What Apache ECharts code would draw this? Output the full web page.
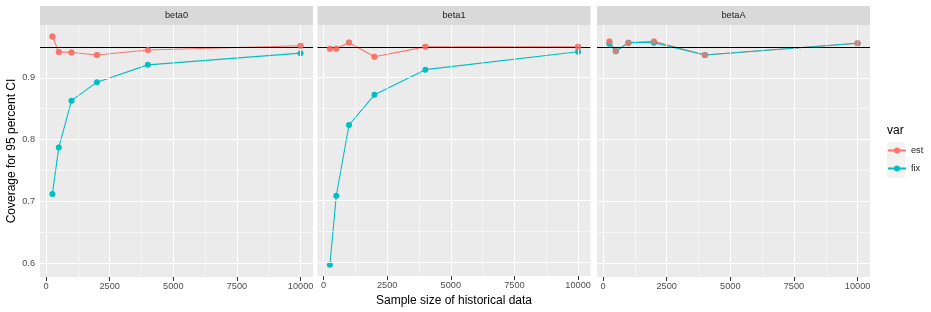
<!DOCTYPE html>
<html><head><meta charset="utf-8">
<script src="https://cdn.jsdelivr.net/npm/echarts@6/dist/echarts.min.js"></script>
<style>html,body{margin:0;padding:0;background:#fff}#c{width:931px;height:312px}</style>
</head><body><div id="c"></div>
<script>
// ---- data ----
const sampleSizes = [250, 500, 1000, 2000, 4000, 10000];
const panels = ['beta0', 'beta1', 'betaA'];
const beta0Est = [0.967, 0.942, 0.941, 0.937, 0.945, 0.952];
const beta0Fix = [0.712, 0.787, 0.863, 0.893, 0.921, 0.940];
const beta1Est = [0.947, 0.947, 0.957, 0.934, 0.950, 0.950];
const beta1Fix = [0.596, 0.708, 0.823, 0.872, 0.913, 0.942];
const betaAEst = [0.959, 0.943, 0.957, 0.959, 0.937, 0.956];
const betaAFix = [0.955, 0.943, 0.957, 0.957, 0.937, 0.956];
const xTicks = [0, 2500, 5000, 7500, 10000];
const xMinor = [1250, 3750, 6250, 8750];
const yTicks = [0.6, 0.7, 0.8, 0.9];
const yMinor = [0.65, 0.75, 0.85, 0.95];
const refLine = 0.95;
const seriesNames = ['est', 'fix'];

// ---- build ----
const estSets = [beta0Est, beta1Est, betaAEst];
const fixSets = [beta0Fix, beta1Fix, betaAFix];
const colors = {est: '#F8766D', fix: '#00BFC4'};
const font = 'Liberation Sans, Arial, Helvetica, sans-serif';

const xMinD = Math.min(...sampleSizes), xMaxD = Math.max(...sampleSizes);
const xPad = (xMaxD - xMinD) * 0.05;
const allY = [].concat(...estSets, ...fixSets, [refLine]);
const yMinD = Math.min(...allY), yMaxD = Math.max(...allY);
const yPad = (yMaxD - yMinD) * 0.05;

const gridLefts = [40, 317.5, 597];
const gridW = 273, gridTop = 25, gridH = 252;

const grids = [], xAxes = [], yAxes = [], series = [], graphics = [];
const pairs = v => sampleSizes.map((s, i) => [s, v[i]]);

panels.forEach((p, i) => {
  grids.push({left: gridLefts[i], top: gridTop, width: gridW, height: gridH,
    show: true, backgroundColor: '#EBEBEB', borderWidth: 0, containLabel: false});
  xAxes.push({
    type: 'value', gridIndex: i, min: xMinD - xPad, max: xMaxD + xPad,
    axisLine: {show: false},
    axisTick: {show: true, length: 4, customValues: xTicks, lineStyle: {color: '#333333', width: 1}},
    axisLabel: {show: true, customValues: xTicks, margin: 5, color: '#4D4D4D', fontSize: 9.2, fontFamily: font,
      formatter: v => String(Math.round(v))},
    splitLine: {show: false},
    name: i === 1 ? 'Sample size of historical data' : '',
    nameLocation: 'middle', nameGap: 15,
    nameTextStyle: {color: '#000', fontSize: 12, fontFamily: font}
  });
  yAxes.push({
    type: 'value', gridIndex: i, min: yMinD - yPad, max: yMaxD + yPad,
    axisLine: {show: false},
    axisTick: {show: i === 0, length: 4, customValues: yTicks, lineStyle: {color: '#333333', width: 1}},
    axisLabel: {show: i === 0, customValues: yTicks, margin: 5, color: '#4D4D4D', fontSize: 9.2, fontFamily: font,
      formatter: v => v.toFixed(1)},
    splitLine: {show: false},
    name: i === 0 ? 'Coverage for 95 percent CI' : '',
    nameLocation: 'middle', nameGap: 22, nameRotate: 90,
    nameTextStyle: {color: '#000', fontSize: 12, fontFamily: font}
  });
  const gl = [];
  xMinor.forEach(v => gl.push({xAxis: v, lineStyle: {color: '#FFFFFF', width: 0.55, type: 'solid'}}));
  yMinor.forEach(v => gl.push({yAxis: v, lineStyle: {color: '#FFFFFF', width: 0.55, type: 'solid'}}));
  xTicks.forEach(v => gl.push({xAxis: v, lineStyle: {color: '#FFFFFF', width: 1.1, type: 'solid'}}));
  yTicks.forEach(v => gl.push({yAxis: v, lineStyle: {color: '#FFFFFF', width: 1.1, type: 'solid'}}));
  gl.push({yAxis: refLine, lineStyle: {color: '#000000', width: 1.1, type: 'solid'}});
  series.push({
    type: 'line', name: 'grid' + i, xAxisIndex: i, yAxisIndex: i, data: [], z: 1, silent: true,
    markLine: {silent: true, symbol: 'none', label: {show: false}, animation: false, data: gl}
  });
  [['est', estSets[i], 3], ['fix', fixSets[i], 4]].forEach(([nm, vals, z]) => {
    series.push({
      type: 'line', name: nm, xAxisIndex: i, yAxisIndex: i, data: pairs(vals), z: z,
      symbol: 'circle', symbolSize: 6, showSymbol: true,
      lineStyle: {color: colors[nm], width: 1.1}, itemStyle: {color: colors[nm]},
      emphasis: {disabled: true}, animation: false
    });
  });
  series.push({
    type: 'scatter', name: 'est_pts', xAxisIndex: i, yAxisIndex: i, data: pairs(estSets[i]), z: 5,
    symbol: 'circle', symbolSize: 6, itemStyle: {color: colors.est}, emphasis: {disabled: true}, animation: false
  });
  graphics.push({type: 'rect', left: gridLefts[i], top: 6, shape: {width: gridW, height: 19}, style: {fill: '#D9D9D9'}, silent: true});
  graphics.push({type: 'text', x: gridLefts[i] + gridW / 2, y: 15.5,
    style: {text: p, fill: '#1A1A1A', font: '9.2px ' + font, textAlign: 'center', textVerticalAlign: 'middle'}});
});

graphics.push({type: 'rect', left: 887, top: 142, shape: {width: 18, height: 36}, style: {fill: '#F2F2F2'}, z: -1});
graphics.push({type: 'text', x: 887, y: 131,
  style: {text: 'var', fill: '#000', font: '12px ' + font, textAlign: 'left', textVerticalAlign: 'middle'}});

const chart = echarts.init(document.getElementById('c'), null, {renderer: 'canvas'});
chart.setOption({
  animation: false,
  backgroundColor: '#FFFFFF',
  grid: grids, xAxis: xAxes, yAxis: yAxes, series: series,
  graphic: {elements: graphics},
  legend: {data: seriesNames, orient: 'vertical', left: 887, top: 142, itemWidth: 18, itemHeight: 7.5, itemGap: 1,
    padding: 0, selectedMode: false,
    textStyle: {fontSize: 9.2, lineHeight: 17, color: '#1A1A1A', fontFamily: font}}
});
</script></body></html>
